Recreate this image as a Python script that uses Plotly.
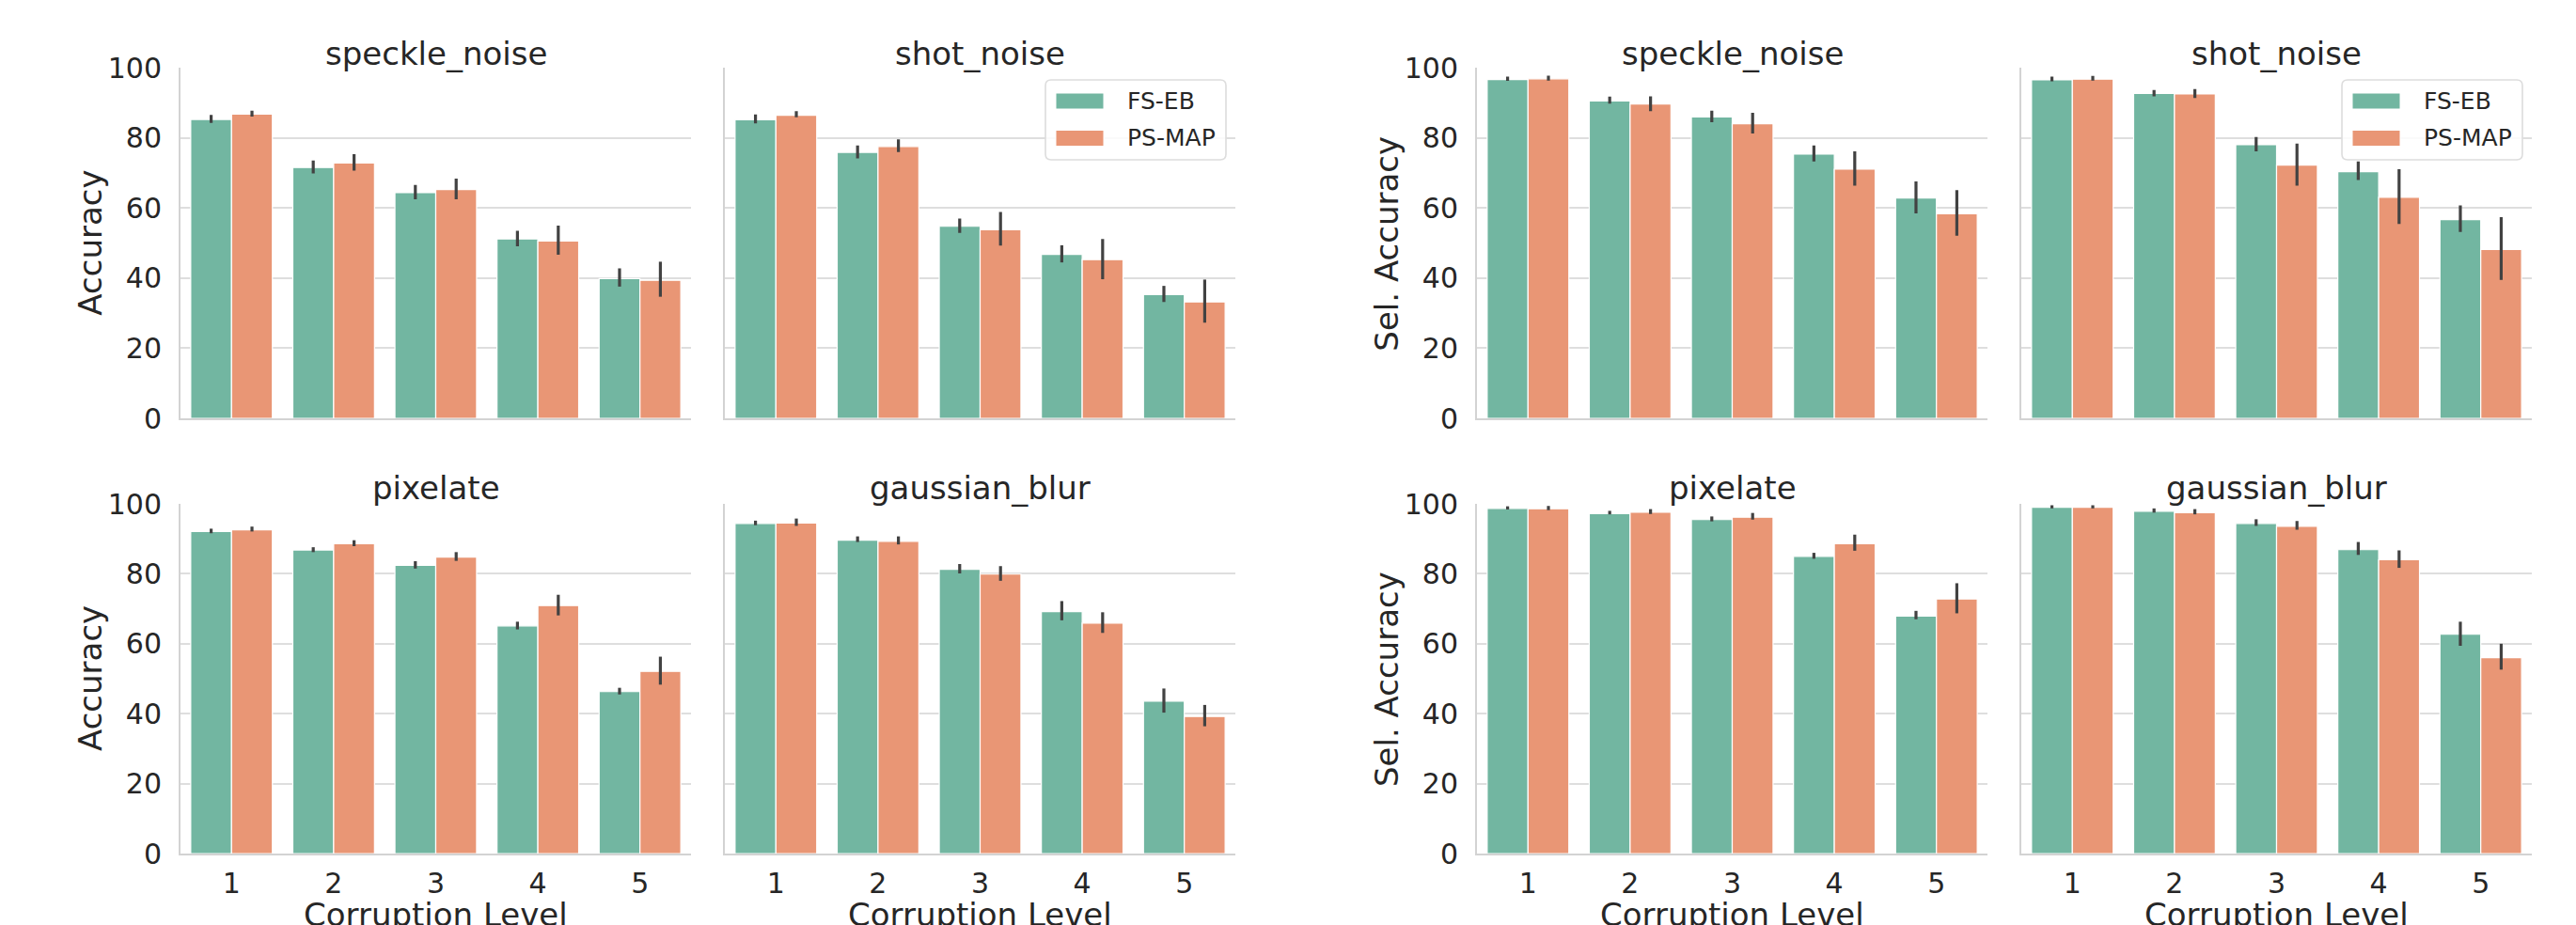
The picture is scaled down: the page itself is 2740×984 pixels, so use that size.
import plotly.graph_objects as go

# ---------------- data ----------------
levels = ["1", "2", "3", "4", "5"]
methods = ["FS-EB", "PS-MAP"]
panel_titles = ["speckle_noise", "shot_noise", "speckle_noise", "shot_noise",
                "pixelate", "gaussian_blur", "pixelate", "gaussian_blur"]
metric_labels = ["Accuracy", "Sel. Accuracy"]

# Accuracy - speckle_noise
spk_acc_fs = [85.3, 71.6, 64.4, 51.2, 39.9]
spk_acc_fs_lo = [84.3, 69.9, 62.5, 49.1, 37.6]
spk_acc_fs_hi = [86.6, 73.6, 66.6, 53.5, 42.8]
spk_acc_ps = [86.8, 72.9, 65.3, 50.6, 39.4]
spk_acc_ps_lo = [86.1, 70.7, 62.5, 46.7, 34.7]
spk_acc_ps_hi = [87.8, 75.4, 68.4, 55.0, 44.7]

# Accuracy - shot_noise
sht_acc_fs = [85.2, 75.9, 54.8, 46.8, 35.3]
sht_acc_fs_lo = [84.2, 74.2, 52.9, 44.5, 33.2]
sht_acc_fs_hi = [86.7, 77.9, 57.0, 49.4, 37.8]
sht_acc_ps = [86.5, 77.6, 53.8, 45.3, 33.2]
sht_acc_ps_lo = [85.9, 76.0, 49.3, 39.7, 27.3]
sht_acc_ps_hi = [87.7, 79.6, 58.9, 51.2, 39.6]

# Sel. Accuracy - speckle_noise
spk_sel_fs = [96.7, 90.6, 86.0, 75.4, 62.9]
spk_sel_fs_lo = [96.3, 89.8, 84.5, 73.3, 58.5]
spk_sel_fs_hi = [97.5, 91.8, 87.8, 77.9, 67.6]
spk_sel_ps = [96.9, 89.7, 84.1, 71.1, 58.4]
spk_sel_ps_lo = [96.4, 87.7, 81.3, 66.4, 52.1]
spk_sel_ps_hi = [97.8, 91.9, 87.2, 76.2, 65.1]

# Sel. Accuracy - shot_noise
sht_sel_fs = [96.6, 92.7, 78.1, 70.4, 56.7]
sht_sel_fs_lo = [96.2, 91.9, 76.2, 68.0, 53.2]
sht_sel_fs_hi = [97.5, 93.7, 80.3, 73.3, 60.8]
sht_sel_ps = [96.8, 92.6, 72.3, 63.1, 48.2]
sht_sel_ps_lo = [96.4, 91.4, 66.4, 55.5, 39.5]
sht_sel_ps_hi = [97.7, 94.0, 78.4, 71.1, 57.4]

# Accuracy - pixelate
pix_acc_fs = [92.1, 86.8, 82.4, 65.1, 46.3]
pix_acc_fs_lo = [91.6, 86.2, 81.5, 64.1, 45.5]
pix_acc_fs_hi = [92.9, 87.6, 83.6, 66.3, 47.4]
pix_acc_ps = [92.6, 88.6, 84.8, 70.9, 52.1]
pix_acc_ps_lo = [92.1, 87.9, 83.7, 68.1, 48.3]
pix_acc_ps_hi = [93.5, 89.6, 86.2, 74.0, 56.3]

# Accuracy - gaussian_blur
gau_acc_fs = [94.4, 89.6, 81.3, 69.2, 43.6]
gau_acc_fs_lo = [93.9, 89.1, 80.1, 66.7, 40.3]
gau_acc_fs_hi = [95.2, 90.7, 82.8, 72.2, 47.2]
gau_acc_ps = [94.5, 89.3, 79.9, 65.9, 39.2]
gau_acc_ps_lo = [93.7, 88.4, 78.0, 63.1, 36.4]
gau_acc_ps_hi = [95.8, 90.7, 82.2, 69.0, 42.5]

# Sel. Accuracy - pixelate
pix_sel_fs = [98.7, 97.2, 95.5, 85.0, 67.9]
pix_sel_fs_lo = [98.4, 97.0, 95.0, 84.3, 67.0]
pix_sel_fs_hi = [99.3, 98.0, 96.4, 86.0, 69.4]
pix_sel_ps = [98.6, 97.6, 96.2, 88.6, 72.8]
pix_sel_ps_lo = [98.2, 97.1, 95.5, 86.6, 68.7]
pix_sel_ps_hi = [99.4, 98.5, 97.4, 91.2, 77.3]

# Sel. Accuracy - gaussian_blur
gau_sel_fs = [99.0, 97.9, 94.4, 86.9, 62.7]
gau_sel_fs_lo = [98.7, 97.5, 93.7, 85.4, 59.4]
gau_sel_fs_hi = [99.6, 98.7, 95.6, 89.1, 66.3]
gau_sel_ps = [99.0, 97.5, 93.6, 84.0, 56.0]
gau_sel_ps_lo = [98.7, 97.0, 92.6, 81.7, 52.6]
gau_sel_ps_hi = [99.6, 98.5, 95.1, 86.7, 60.0]

panels = [
    [(spk_acc_fs, spk_acc_fs_lo, spk_acc_fs_hi), (spk_acc_ps, spk_acc_ps_lo, spk_acc_ps_hi)],
    [(sht_acc_fs, sht_acc_fs_lo, sht_acc_fs_hi), (sht_acc_ps, sht_acc_ps_lo, sht_acc_ps_hi)],
    [(spk_sel_fs, spk_sel_fs_lo, spk_sel_fs_hi), (spk_sel_ps, spk_sel_ps_lo, spk_sel_ps_hi)],
    [(sht_sel_fs, sht_sel_fs_lo, sht_sel_fs_hi), (sht_sel_ps, sht_sel_ps_lo, sht_sel_ps_hi)],
    [(pix_acc_fs, pix_acc_fs_lo, pix_acc_fs_hi), (pix_acc_ps, pix_acc_ps_lo, pix_acc_ps_hi)],
    [(gau_acc_fs, gau_acc_fs_lo, gau_acc_fs_hi), (gau_acc_ps, gau_acc_ps_lo, gau_acc_ps_hi)],
    [(pix_sel_fs, pix_sel_fs_lo, pix_sel_fs_hi), (pix_sel_ps, pix_sel_ps_lo, pix_sel_ps_hi)],
    [(gau_sel_fs, gau_sel_fs_lo, gau_sel_fs_hi), (gau_sel_ps, gau_sel_ps_lo, gau_sel_ps_hi)],
]

# ---------------- style / layout ----------------
W, H = 2740, 984
OFF = 8  # page body margin offset
colors = ["#72b6a1", "#e99675"]
FONT = "DejaVu Sans"
TXT = "#262626"
GRID = "#dedede"
SPINE = "#d3d3d3"

col_px = [(192, 735), (771, 1314), (1571, 2114), (2150, 2693)]
row_px = [(72.3, 445), (536, 908)]


def px_x(p):
    return (p - OFF) / W


def px_y(p):
    return 1 - (p - OFF) / H


fig = go.Figure()
layout = dict(
    template="none",
    width=W, height=H,
    margin=dict(l=0, r=0, t=0, b=0, pad=0, autoexpand=False),
    paper_bgcolor="white", plot_bgcolor="white",
    barmode="group", bargap=0.2, bargroupgap=0,
    showlegend=False,
    font=dict(family=FONT, color=TXT, size=30),
)
annotations = []
shapes = []

for i, data in enumerate(panels):
    r, c = divmod(i, 4)
    ax = "" if i == 0 else str(i + 1)
    x0, x1 = col_px[c]
    y0, y1 = row_px[r]
    for m, (vals, lo, hi) in enumerate(data):
        fig.add_trace(go.Bar(
            x=levels, y=vals, name=methods[m],
            marker=dict(color=colors[m], line=dict(color="white", width=1.2)),
            error_y=dict(type="data", symmetric=False,
                         array=[h - v for h, v in zip(hi, vals)],
                         arrayminus=[v - l for v, l in zip(vals, lo)],
                         color="#424242", thickness=3.2, width=0),
            xaxis="x" + ax, yaxis="y" + ax,
        ))
    layout["xaxis" + ax] = dict(
        domain=[px_x(x0), px_x(x1)], anchor="y" + ax, automargin=False,
        type="category", categoryorder="array", categoryarray=levels,
        range=[-0.5, 4.5], showgrid=False, zeroline=False,
        showline=True, linecolor=SPINE, linewidth=2,
        ticks="", ticklen=0, showticklabels=(r == 1),
        tickfont=dict(size=30, color=TXT, family=FONT),
        ticklabelstandoff=4,
    )
    layout["yaxis" + ax] = dict(
        domain=[px_y(y1), px_y(y0)], anchor="x" + ax, automargin=False,
        range=[0, 100], tickvals=[0, 20, 40, 60, 80, 100],
        showgrid=True, gridcolor=GRID, gridwidth=1.6, zeroline=False,
        showline=True, linecolor=SPINE, linewidth=2,
        ticks="", ticklen=0, showticklabels=(c in (0, 2)),
        tickfont=dict(size=30, color=TXT, family=FONT),
        ticklabelstandoff=12,
    )
    # panel title
    ty = 57.5 if r == 0 else 519
    annotations.append(dict(
        text=panel_titles[i], x=px_x((x0 + x1) / 2), y=px_y(ty),
        xref="paper", yref="paper", xanchor="center", yanchor="middle",
        showarrow=False, font=dict(size=34, color=TXT, family=FONT)))
    # y label
    if c in (0, 2):
        annotations.append(dict(
            text=metric_labels[c // 2], x=px_x(x0 - 96), y=px_y((y0 + y1) / 2),
            xref="paper", yref="paper", xanchor="center", yanchor="middle",
            textangle=-90, showarrow=False,
            font=dict(size=34, color=TXT, family=FONT)))
    # x label (partly cut by the bottom edge, as in the reference)
    if r == 1:
        annotations.append(dict(
            text="Corruption Level", x=px_x((x0 + x1) / 2), y=px_y(973),
            xref="paper", yref="paper", xanchor="center", yanchor="middle",
            showarrow=False, font=dict(size=34, color=TXT, family=FONT)))
    # legend in top-row right panels
    if r == 0 and c in (1, 3):
        fr = x1 - 10
        fl = fr - 192
        ft, fb = 85, 170
        rad = 6
        path = (f"M{px_x(fl + rad)},{px_y(ft)} L{px_x(fr - rad)},{px_y(ft)} "
                f"Q{px_x(fr)},{px_y(ft)} {px_x(fr)},{px_y(ft + rad)} "
                f"L{px_x(fr)},{px_y(fb - rad)} "
                f"Q{px_x(fr)},{px_y(fb)} {px_x(fr - rad)},{px_y(fb)} "
                f"L{px_x(fl + rad)},{px_y(fb)} "
                f"Q{px_x(fl)},{px_y(fb)} {px_x(fl)},{px_y(fb - rad)} "
                f"L{px_x(fl)},{px_y(ft + rad)} "
                f"Q{px_x(fl)},{px_y(ft)} {px_x(fl + rad)},{px_y(ft)} Z")
        shapes.append(dict(type="path", path=path, xref="paper", yref="paper",
                           fillcolor="rgba(255,255,255,0.85)",
                           line=dict(color="#dddddd", width=1.6), layer="above"))
        for m in range(2):
            cy = 107.5 + m * 39.5
            shapes.append(dict(type="rect", xref="paper", yref="paper",
                               x0=px_x(fl + 11), x1=px_x(fl + 62),
                               y0=px_y(cy - 8.5), y1=px_y(cy + 8.5),
                               fillcolor=colors[m], line=dict(color="white", width=1),
                               layer="above"))
            annotations.append(dict(
                text=methods[m], x=px_x(fl + 85), y=px_y(cy),
                xref="paper", yref="paper", xanchor="left", yanchor="middle",
                showarrow=False, font=dict(size=25, color=TXT, family=FONT)))

layout["annotations"] = annotations
layout["shapes"] = shapes
fig.update_layout(**layout)
fig.write_html("out.html")
